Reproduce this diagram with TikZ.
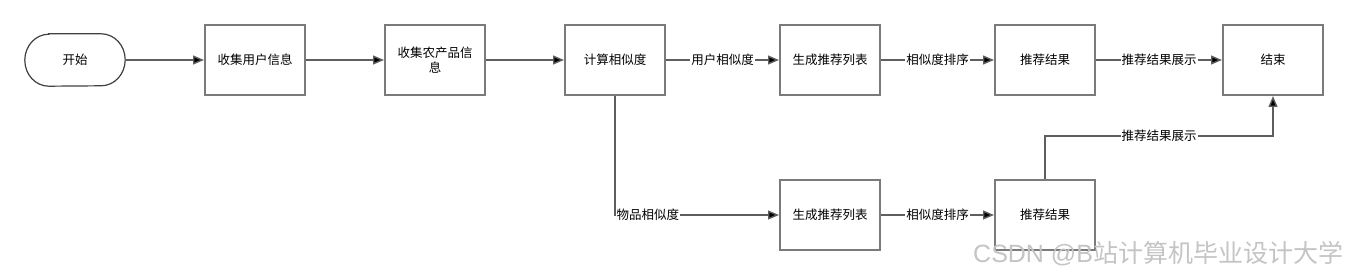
\documentclass[tikz,border=0pt]{standalone}
\usepackage{fontspec}
\setmainfont{Noto Sans CJK SC}
\newfontfamily\wmfont{Liberation Sans}
\newfontfamily\wmcjk{Noto Sans CJK SC}
\usetikzlibrary{arrows.meta,calc}
\definecolor{boxgray}{HTML}{7A7A7A}
\definecolor{linegray}{HTML}{5E5E5E}
\definecolor{wmgray}{HTML}{C4C4C4}
\begin{document}
\begin{tikzpicture}[x=1pt,y=-1pt,
  font=\fontsize{12.5}{15}\selectfont,
  procbox/.style={draw=boxgray,line width=2pt,minimum width=100pt,minimum height=70pt,inner sep=0pt,align=center},
  termbox/.style={minimum width=100pt,minimum height=52pt,inner sep=0pt},
  conn/.style={draw=linegray,line width=1.4pt,-{Triangle[length=11pt,width=9pt,fill=black]}},
  lbl/.style={fill=white,inner sep=1pt,text=black}]
\useasboundingbox (0,0) rectangle (1348,275);
\node[termbox] (start) at (75,60) {开始};
\draw[draw=black!75,line width=1.2pt]
  ($(start.north west)+(24,0)$) -- ($(start.north east)+(-24,0)$)
  arc[start angle=90,end angle=-90,x radius=24pt,y radius=26pt]
  -- ($(start.south west)+(24,0)$)
  arc[start angle=270,end angle=90,x radius=24pt,y radius=26pt] -- cycle;
\node[procbox] (user) at (255,60) {收集用户信息};
\node[procbox,text width=82pt] (prod) at (435,60) {收集农产品信\\息};
\node[procbox] (calc) at (615,60) {计算相似度};
\node[procbox] (gen1) at (830,60) {生成推荐列表};
\node[procbox] (res1) at (1045,60) {推荐结果};
\node[procbox] (end) at (1273,60) {结束};
\node[procbox] (gen2) at (830,215) {生成推荐列表};
\node[procbox] (res2) at (1045,215) {推荐结果};
\draw[conn] (start) -- (user);
\draw[conn] (user) -- (prod);
\draw[conn] (prod) -- (calc);
\draw[conn] (calc) -- node[lbl]{用户相似度} (gen1);
\draw[conn] (gen1) -- node[lbl]{相似度排序} (res1);
\draw[conn] (res1) -- node[lbl]{推荐结果展示} (end);
\draw[conn] (calc.south) |- node[lbl,pos=0.6]{物品相似度} (gen2.west);
\draw[conn] (gen2) -- node[lbl]{相似度排序} (res2);
\draw[conn] (res2.north) -- ++(0,-43) -| node[lbl,pos=0.25]{推荐结果展示} (end.south);
\node[anchor=base west,inner sep=0pt,text=wmgray,font=\fontsize{25}{28}\selectfont] (wm) at (973,262) {{\wmfont CSDN @B}{\wmcjk 站计算机毕业设计大学}};
\end{tikzpicture}
\end{document}
